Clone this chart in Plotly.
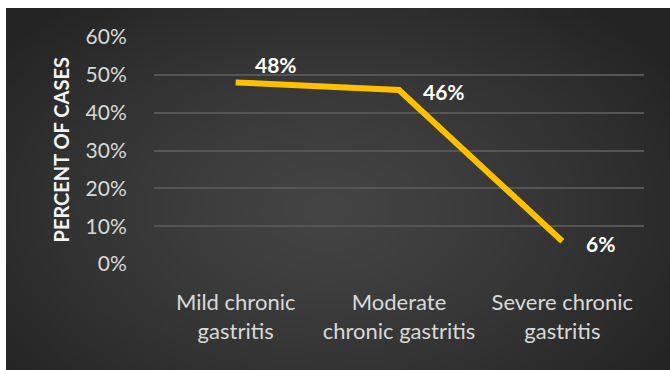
import base64, struct, zlib
import numpy as np
import plotly.graph_objects as go

categories = ["Mild chronic<br>gastritis", "Moderate<br>chronic gastritis", "Severe chronic<br>gastritis"]
values = [0.48, 0.46, 0.06]
labels = ["48%", "46%", "6%"]
label_shift = [(17, 18), (22, -2), (22, -2)]

# --- radial gradient background as PNG data URI ---
W, H = 160, 90
yy, xx = np.mgrid[0:H, 0:W]
cx, cy = W * 0.48, H * 0.55
d = np.sqrt(((xx - cx) / (W * 0.62)) ** 2 + ((yy - cy) / (H * 0.75)) ** 2)
d = np.clip(d, 0, 1)
c_in, c_out = 0x44, 0x24
v = (c_in + (c_out - c_in) * d ** 1.3).astype(np.uint8)
raw = b"".join(b"\x00" + bytes(np.stack([v[r], v[r], v[r]], axis=1).flatten()) for r in range(H))
def chunk(t, data):
    c = struct.pack(">I", len(data)) + t + data
    return c + struct.pack(">I", zlib.crc32(t + data) & 0xffffffff)
png = b"\x89PNG\r\n\x1a\n" + chunk(b"IHDR", struct.pack(">IIBBBBB", W, H, 8, 2, 0, 0, 0)) + chunk(b"IDAT", zlib.compress(raw)) + chunk(b"IEND", b"")
uri = "data:image/png;base64," + base64.b64encode(png).decode()

FW, FH = 670, 370
ML, MR, MT, MB = 154, 26, 37, 106
PW, PH = FW - ML - MR, FH - MT - MB
def px2paper_x(px): return (px - ML) / PW
def px2paper_y(py): return (FH - MB - py) / PH

fig = go.Figure()
fig.add_trace(go.Scatter(x=categories, y=values, mode="lines",
                         line=dict(color="#FFC000", width=6), hoverinfo="skip"))

annotations = []
for c, v_, t, (dx, dy) in zip(categories, values, labels, label_shift):
    annotations.append(dict(x=c, y=v_, text="<b>%s</b>" % t, showarrow=False,
                            xanchor="left", yanchor="middle", xshift=dx, yshift=dy,
                            font=dict(family="Lato", size=21, color="#FFFFFF")))
annotations.append(dict(x=px2paper_x(60), y=0.5, xref="paper", yref="paper",
                        text="<b>PERCENT OF CASES</b>", textangle=-90, showarrow=False,
                        xanchor="center", yanchor="middle",
                        font=dict(family="Lato", size=20, color="#F2F2F2")))

fig.update_layout(
    width=FW, height=FH,
    margin=dict(l=ML, r=MR, t=MT, b=MB),
    paper_bgcolor="#FFFFFF", plot_bgcolor="rgba(0,0,0,0)",
    showlegend=False,
    annotations=annotations,
    images=[dict(source=uri, xref="paper", yref="paper",
                 x=px2paper_x(6), y=px2paper_y(8),
                 sizex=(FW - 6) / PW, sizey=(FH - 8) / PH,
                 xanchor="left", yanchor="top", sizing="stretch", layer="below")],
    xaxis=dict(showgrid=False, zeroline=False, showline=False,
               ticks="outside", ticklen=19, tickcolor="rgba(0,0,0,0)",
               tickfont=dict(family="Lato", size=22, color="#D9D9D9"),
               range=[-0.5, 2.5]),
    yaxis=dict(range=[0, 0.6], dtick=0.1, tickformat=".0%",
               showgrid=True, gridcolor="#555555", gridwidth=1.5,
               zeroline=False, showline=False,
               ticks="outside", ticklen=22, tickcolor="rgba(0,0,0,0)",
               tickfont=dict(family="Lato", size=21, color="#D9D9D9")),
)
fig.write_html("out.html")
